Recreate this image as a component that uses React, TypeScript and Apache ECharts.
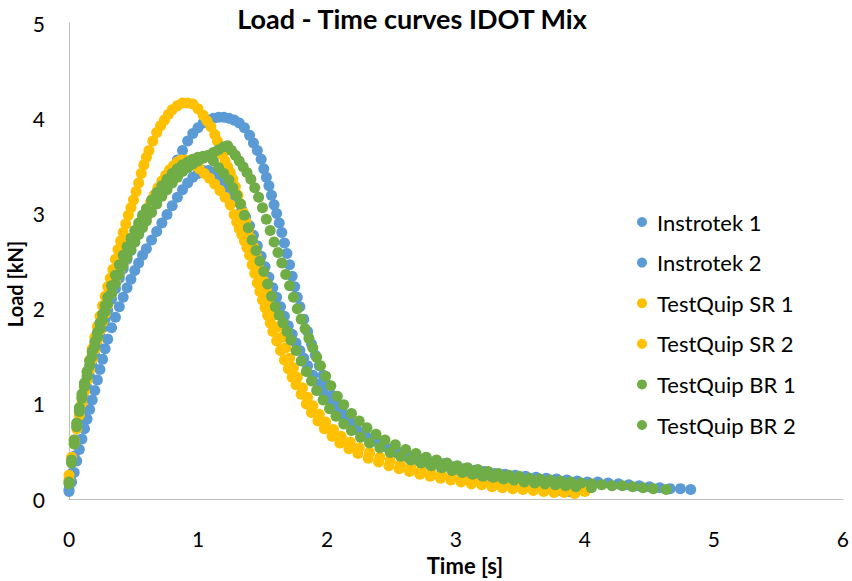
import React, { useEffect, useRef } from "react";
import * as echarts from "echarts";

const TITLE = "Load - Time curves IDOT Mix";
const X_NAME = "Time [s]";
const Y_NAME = "Load [kN]";
const SERIES_NAMES = ["Instrotek 1", "Instrotek 2", "TestQuip SR 1", "TestQuip SR 2", "TestQuip BR 1", "TestQuip BR 2"];
const SERIES_COLORS = ["#5B9BD5", "#5B9BD5", "#FFC000", "#FFC000", "#70AD47", "#70AD47"];

const INSTROTEK_1 = [[0.00,0.10],[0.02,0.27],[0.04,0.45],[0.06,0.62],[0.08,0.78],[0.10,0.92],[0.12,1.05],[0.14,1.17],[0.16,1.29],[0.18,1.40],[0.20,1.51],[0.22,1.61],[0.24,1.71],[0.26,1.80],[0.28,1.89],[0.30,1.98],[0.33,2.10],[0.36,2.21],[0.39,2.32],[0.42,2.42],[0.45,2.52],[0.48,2.61],[0.51,2.70],[0.54,2.79],[0.57,2.88],[0.60,2.96],[0.64,3.07],[0.68,3.18],[0.72,3.28],[0.76,3.38],[0.80,3.47],[0.84,3.56],[0.88,3.66],[0.92,3.76],[0.96,3.84],[1.00,3.90],[1.04,3.95],[1.08,3.98],[1.12,4.00],[1.16,4.01],[1.20,4.01],[1.24,4.00],[1.28,3.98],[1.32,3.95],[1.36,3.90],[1.40,3.82],[1.43,3.74],[1.46,3.66],[1.49,3.57],[1.51,3.47],[1.53,3.38],[1.55,3.29],[1.57,3.19],[1.59,3.09],[1.61,3.00],[1.63,2.90],[1.65,2.80],[1.67,2.69],[1.69,2.58],[1.71,2.46],[1.73,2.34],[1.75,2.23],[1.77,2.12],[1.79,2.02],[1.82,1.89],[1.85,1.76],[1.88,1.63],[1.91,1.51],[1.94,1.40],[1.97,1.30],[2.00,1.20],[2.04,1.09],[2.08,0.99],[2.12,0.91],[2.17,0.83],[2.22,0.76],[2.28,0.69],[2.35,0.63],[2.42,0.58],[2.50,0.53],[2.58,0.49],[2.66,0.45],[2.74,0.42],[2.82,0.39],[2.90,0.37],[2.98,0.34],[3.06,0.32],[3.14,0.30],[3.22,0.29],[3.30,0.27],[3.38,0.26],[3.46,0.25],[3.54,0.24],[3.62,0.23],[3.70,0.22],[3.78,0.21],[3.86,0.20],[3.94,0.19],[4.02,0.18],[4.10,0.18],[4.18,0.17],[4.26,0.16],[4.34,0.15],[4.42,0.14],[4.50,0.13],[4.58,0.12],[4.66,0.11],[4.74,0.11],[4.82,0.10]];

const INSTROTEK_2 = [[0.00,0.08],[0.02,0.18],[0.04,0.28],[0.06,0.40],[0.08,0.52],[0.10,0.63],[0.12,0.74],[0.14,0.84],[0.16,0.94],[0.18,1.04],[0.20,1.14],[0.22,1.25],[0.24,1.36],[0.26,1.47],[0.28,1.58],[0.30,1.68],[0.33,1.80],[0.36,1.91],[0.39,2.02],[0.42,2.12],[0.45,2.22],[0.48,2.31],[0.51,2.40],[0.54,2.48],[0.57,2.56],[0.60,2.63],[0.64,2.72],[0.68,2.81],[0.72,2.90],[0.76,2.99],[0.80,3.08],[0.84,3.17],[0.88,3.25],[0.92,3.32],[0.96,3.38],[1.00,3.42],[1.04,3.45],[1.08,3.45],[1.12,3.43],[1.16,3.39],[1.20,3.34],[1.24,3.27],[1.28,3.19],[1.31,3.12],[1.34,3.04],[1.37,2.96],[1.40,2.87],[1.43,2.77],[1.46,2.66],[1.49,2.55],[1.52,2.44],[1.55,2.33],[1.58,2.22],[1.61,2.12],[1.64,2.02],[1.67,1.92],[1.70,1.82],[1.73,1.73],[1.76,1.64],[1.79,1.56],[1.82,1.48],[1.85,1.40],[1.89,1.30],[1.93,1.21],[1.97,1.12],[2.01,1.04],[2.06,0.96],[2.11,0.88],[2.17,0.80],[2.23,0.73],[2.30,0.67],[2.37,0.61],[2.45,0.55],[2.53,0.49],[2.62,0.44],[2.71,0.40],[2.80,0.36],[2.89,0.32],[2.98,0.29],[3.07,0.26],[3.16,0.23],[3.25,0.21],[3.34,0.19],[3.43,0.17],[3.52,0.15],[3.61,0.13],[3.70,0.11],[3.79,0.09],[3.88,0.08]];

const TESTQUIP_SR_1 = [[0.00,0.25],[0.02,0.44],[0.04,0.62],[0.06,0.78],[0.08,0.93],[0.10,1.07],[0.12,1.20],[0.14,1.33],[0.16,1.46],[0.18,1.58],[0.20,1.70],[0.22,1.81],[0.24,1.92],[0.26,2.03],[0.28,2.13],[0.30,2.23],[0.32,2.32],[0.34,2.41],[0.36,2.52],[0.38,2.62],[0.40,2.71],[0.42,2.80],[0.44,2.89],[0.46,2.98],[0.48,3.06],[0.50,3.14],[0.52,3.23],[0.54,3.32],[0.56,3.42],[0.58,3.51],[0.60,3.59],[0.62,3.66],[0.65,3.76],[0.68,3.85],[0.71,3.92],[0.74,3.98],[0.77,4.04],[0.80,4.09],[0.84,4.13],[0.88,4.16],[0.92,4.16],[0.96,4.15],[1.00,4.10],[1.04,4.03],[1.07,3.97],[1.10,3.91],[1.13,3.83],[1.15,3.76],[1.17,3.69],[1.19,3.62],[1.21,3.55],[1.23,3.49],[1.25,3.43],[1.27,3.36],[1.29,3.28],[1.31,3.19],[1.33,3.10],[1.35,3.01],[1.37,2.92],[1.39,2.83],[1.41,2.74],[1.43,2.65],[1.45,2.56],[1.47,2.47],[1.49,2.38],[1.51,2.29],[1.53,2.20],[1.55,2.11],[1.57,2.02],[1.59,1.93],[1.62,1.81],[1.65,1.70],[1.68,1.59],[1.71,1.48],[1.74,1.38],[1.77,1.28],[1.81,1.17],[1.85,1.07],[1.89,0.98],[1.94,0.89],[1.99,0.81],[2.05,0.73],[2.11,0.66],[2.18,0.60],[2.25,0.54],[2.33,0.49],[2.41,0.44],[2.49,0.40],[2.57,0.36],[2.65,0.33],[2.73,0.30],[2.81,0.27],[2.89,0.25],[2.97,0.23],[3.05,0.21],[3.13,0.19],[3.21,0.17],[3.29,0.16],[3.37,0.15],[3.45,0.14],[3.53,0.13],[3.61,0.12],[3.69,0.11],[3.77,0.10],[3.85,0.09],[3.93,0.08],[4.00,0.08]];

const TESTQUIP_SR_2 = [[0.00,0.20],[0.02,0.40],[0.04,0.58],[0.06,0.74],[0.08,0.88],[0.10,1.01],[0.12,1.13],[0.14,1.25],[0.16,1.36],[0.18,1.47],[0.20,1.57],[0.22,1.67],[0.24,1.77],[0.26,1.86],[0.28,1.95],[0.30,2.04],[0.33,2.16],[0.36,2.28],[0.39,2.39],[0.42,2.49],[0.45,2.59],[0.48,2.68],[0.51,2.77],[0.54,2.86],[0.57,2.95],[0.60,3.03],[0.63,3.11],[0.66,3.19],[0.69,3.27],[0.72,3.34],[0.75,3.40],[0.78,3.46],[0.81,3.50],[0.84,3.54],[0.87,3.56],[0.90,3.56],[0.93,3.55],[0.97,3.51],[1.01,3.47],[1.05,3.42],[1.09,3.37],[1.13,3.31],[1.17,3.24],[1.21,3.17],[1.25,3.09],[1.28,2.99],[1.30,2.91],[1.32,2.84],[1.34,2.78],[1.36,2.71],[1.38,2.64],[1.40,2.56],[1.42,2.46],[1.44,2.37],[1.46,2.27],[1.48,2.18],[1.50,2.09],[1.52,2.01],[1.54,1.93],[1.56,1.85],[1.58,1.76],[1.61,1.66],[1.64,1.56],[1.67,1.46],[1.70,1.37],[1.73,1.28],[1.76,1.20],[1.80,1.10],[1.84,1.00],[1.88,0.91],[1.93,0.82],[1.98,0.74],[2.04,0.66],[2.10,0.59],[2.17,0.53],[2.24,0.48],[2.32,0.43],[2.40,0.39],[2.48,0.35],[2.56,0.32],[2.64,0.29],[2.72,0.26],[2.80,0.24],[2.88,0.22],[2.96,0.20],[3.04,0.18],[3.12,0.16],[3.20,0.15],[3.28,0.13],[3.36,0.12],[3.44,0.11],[3.52,0.10],[3.60,0.09],[3.68,0.08],[3.76,0.07],[3.84,0.07],[3.92,0.06]];

const TESTQUIP_BR_1 = [[0.00,0.16],[0.02,0.38],[0.04,0.58],[0.06,0.76],[0.08,0.92],[0.10,1.06],[0.12,1.18],[0.14,1.29],[0.16,1.40],[0.18,1.50],[0.20,1.60],[0.22,1.70],[0.24,1.79],[0.26,1.88],[0.28,1.97],[0.30,2.05],[0.33,2.16],[0.36,2.26],[0.39,2.36],[0.42,2.45],[0.45,2.54],[0.48,2.62],[0.51,2.70],[0.54,2.78],[0.57,2.85],[0.60,2.92],[0.64,3.01],[0.68,3.10],[0.72,3.18],[0.76,3.25],[0.80,3.32],[0.84,3.38],[0.88,3.44],[0.92,3.48],[0.96,3.52],[1.00,3.55],[1.04,3.58],[1.08,3.61],[1.12,3.64],[1.16,3.67],[1.20,3.70],[1.23,3.71],[1.26,3.66],[1.29,3.61],[1.32,3.55],[1.35,3.49],[1.38,3.43],[1.41,3.36],[1.44,3.27],[1.47,3.17],[1.50,3.06],[1.53,2.94],[1.56,2.82],[1.59,2.70],[1.62,2.59],[1.65,2.48],[1.68,2.36],[1.71,2.24],[1.74,2.12],[1.77,2.00],[1.80,1.89],[1.83,1.79],[1.86,1.69],[1.89,1.59],[1.92,1.49],[1.95,1.40],[1.99,1.29],[2.03,1.19],[2.08,1.08],[2.13,0.99],[2.19,0.90],[2.25,0.82],[2.31,0.75],[2.38,0.68],[2.45,0.62],[2.53,0.57],[2.61,0.52],[2.69,0.48],[2.77,0.44],[2.85,0.41],[2.93,0.38],[3.01,0.35],[3.09,0.33],[3.17,0.31],[3.25,0.29],[3.33,0.27],[3.41,0.25],[3.49,0.24],[3.57,0.22],[3.65,0.21],[3.73,0.20],[3.81,0.19],[3.89,0.18],[3.97,0.17],[4.05,0.16],[4.13,0.15],[4.21,0.14],[4.29,0.14],[4.37,0.13],[4.45,0.12],[4.53,0.11],[4.63,0.10]];

const TESTQUIP_BR_2 = [[0.00,0.18],[0.02,0.41],[0.04,0.62],[0.06,0.80],[0.08,0.96],[0.10,1.10],[0.12,1.22],[0.14,1.34],[0.16,1.45],[0.18,1.55],[0.20,1.65],[0.22,1.75],[0.24,1.85],[0.26,1.94],[0.28,2.03],[0.30,2.12],[0.33,2.24],[0.36,2.35],[0.39,2.46],[0.42,2.56],[0.45,2.65],[0.48,2.74],[0.51,2.82],[0.54,2.90],[0.57,2.98],[0.60,3.05],[0.64,3.14],[0.68,3.22],[0.72,3.29],[0.76,3.36],[0.80,3.42],[0.84,3.47],[0.88,3.51],[0.92,3.54],[0.96,3.57],[1.00,3.59],[1.04,3.60],[1.08,3.60],[1.12,3.55],[1.16,3.48],[1.20,3.42],[1.24,3.35],[1.27,3.27],[1.30,3.19],[1.33,3.10],[1.36,2.98],[1.39,2.85],[1.42,2.72],[1.45,2.61],[1.48,2.50],[1.51,2.39],[1.54,2.26],[1.57,2.13],[1.60,2.02],[1.63,1.93],[1.66,1.85],[1.69,1.76],[1.72,1.67],[1.76,1.56],[1.80,1.45],[1.84,1.34],[1.88,1.24],[1.92,1.14],[1.97,1.04],[2.02,0.95],[2.07,0.87],[2.13,0.79],[2.19,0.72],[2.26,0.65],[2.33,0.59],[2.41,0.54],[2.49,0.49],[2.57,0.45],[2.65,0.41],[2.73,0.38],[2.81,0.35],[2.89,0.33],[2.97,0.30],[3.05,0.28],[3.13,0.26],[3.21,0.24],[3.29,0.23],[3.37,0.21],[3.45,0.20],[3.53,0.18],[3.61,0.17],[3.69,0.16],[3.77,0.15],[3.85,0.14],[3.93,0.13],[4.05,0.12]];

const SERIES_DATA = [INSTROTEK_1, INSTROTEK_2, TESTQUIP_SR_1, TESTQUIP_SR_2, TESTQUIP_BR_1, TESTQUIP_BR_2];

const FONT = "Lato, 'Open Sans', sans-serif";

export default function App() {
  const ref = useRef<HTMLDivElement>(null);
  useEffect(() => {
    if (!ref.current) return;
    document.body.style.margin = "0";
    document.body.style.overflow = "hidden";
    const chart = echarts.init(ref.current, undefined, { renderer: "svg" });
    chart.setOption({
      animation: false,
      backgroundColor: "#ffffff",
      textStyle: { fontFamily: FONT },
      title: {
        text: TITLE,
        left: 407,
        top: 0,
        textAlign: "center",
        textStyle: { fontFamily: FONT, fontWeight: "bold", fontSize: 27, color: "#000" },
      },
      grid: { left: 69, right: 9, top: 23, bottom: 80 },
      xAxis: {
        type: "value",
        min: 0,
        max: 6,
        interval: 1,
        name: X_NAME,
        nameLocation: "middle",
        nameGap: 52,
        nameTextStyle: { fontFamily: FONT, fontWeight: "bold", fontSize: 22, color: "#000", padding: [0, 0, 0, 18] },
        axisLine: { show: true, lineStyle: { color: "#BFBFBF", width: 1 } },
        axisTick: { show: false },
        splitLine: { show: false },
        axisLabel: { margin: 29, fontSize: 21, color: "#000", fontFamily: FONT },
      },
      yAxis: {
        type: "value",
        min: 0,
        max: 5,
        interval: 1,
        axisLine: { show: true, lineStyle: { color: "#BFBFBF", width: 1 } },
        axisTick: { show: false },
        splitLine: { show: false },
        axisLabel: { margin: 24, fontSize: 21, color: "#000", fontFamily: FONT },
      },
      legend: {
        orient: "vertical",
        left: 632,
        top: 206,
        itemWidth: 10,
        itemHeight: 10,
        itemGap: 18.6,
        icon: "circle",
        data: SERIES_NAMES,
        textStyle: { fontSize: 22, color: "#000", fontFamily: FONT, padding: [0, 0, 0, 5] },
      },
      graphic: [
        {
          type: "text",
          x: 15,
          y: 284,
          rotation: Math.PI / 2,
          style: {
            text: Y_NAME,
            align: "center",
            verticalAlign: "middle",
            font: "bold 20px " + FONT,
            fill: "#000",
          },
        },
      ],
      series: SERIES_NAMES.map((name, i) => ({
        name,
        type: "scatter",
        data: SERIES_DATA[i],
        symbol: "circle",
        symbolSize: 11,
        itemStyle: { color: SERIES_COLORS[i], opacity: 1 },
      })),
    });
    return () => chart.dispose();
  }, []);
  return <div ref={ref} style={{ width: 852, height: 581, position: "fixed", left: 0, top: 0 }} />;
}
